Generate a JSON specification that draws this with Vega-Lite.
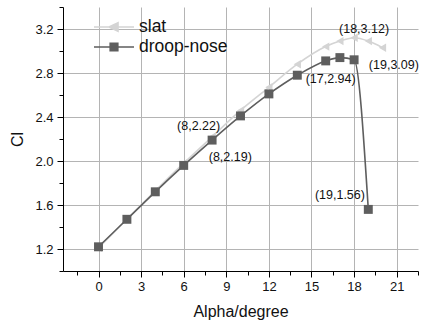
{
  "$schema": "https://vega.github.io/schema/vega-lite/v6.json",
  "width": 355,
  "height": 264,
  "autosize": {"type": "none"},
  "padding": {"left": 63, "top": 7, "right": 3, "bottom": 54},
  "background": "white",
  "config": {
    "view": {"stroke": null},
    "font": "Liberation Sans",
    "axis": {"domainColor": "#000", "tickColor": "#000", "labelColor": "#111", "titleColor": "#111", "gridColor": "#b4b4b4", "gridWidth": 1, "labelFontSize": 13, "titleFontSize": 16, "titleFontWeight": "normal", "labelOverlap": false, "labelFlush": false}
  },
  "resolve": {"axis": {"x": "independent", "y": "independent"}},
  "datasets": {
    "curves": [
      {"series": "slat", "alpha": 0, "cl": 1.21},
      {"series": "slat", "alpha": 2, "cl": 1.47},
      {"series": "slat", "alpha": 4, "cl": 1.73},
      {"series": "slat", "alpha": 6, "cl": 1.98},
      {"series": "slat", "alpha": 8, "cl": 2.22},
      {"series": "slat", "alpha": 10, "cl": 2.46},
      {"series": "slat", "alpha": 12, "cl": 2.67},
      {"series": "slat", "alpha": 14, "cl": 2.88},
      {"series": "slat", "alpha": 16, "cl": 3.04},
      {"series": "slat", "alpha": 17, "cl": 3.09},
      {"series": "slat", "alpha": 18, "cl": 3.12},
      {"series": "slat", "alpha": 19, "cl": 3.09},
      {"series": "slat", "alpha": 20, "cl": 3.03},
      {"series": "droop-nose", "alpha": 0, "cl": 1.22},
      {"series": "droop-nose", "alpha": 2, "cl": 1.47},
      {"series": "droop-nose", "alpha": 4, "cl": 1.72},
      {"series": "droop-nose", "alpha": 6, "cl": 1.96},
      {"series": "droop-nose", "alpha": 8, "cl": 2.19},
      {"series": "droop-nose", "alpha": 10, "cl": 2.41},
      {"series": "droop-nose", "alpha": 12, "cl": 2.61},
      {"series": "droop-nose", "alpha": 14, "cl": 2.78},
      {"series": "droop-nose", "alpha": 16, "cl": 2.91},
      {"series": "droop-nose", "alpha": 17, "cl": 2.94},
      {"series": "droop-nose", "alpha": 18, "cl": 2.92},
      {"series": "droop-nose", "alpha": 19, "cl": 1.56}
    ],
    "notes": [
      {"label": "(18,3.12)", "alpha": 18.7, "cl": 3.2},
      {"label": "(19,3.09)", "alpha": 20.8, "cl": 2.875},
      {"label": "(17,2.94)", "alpha": 16.35, "cl": 2.745},
      {"label": "(8,2.22)", "alpha": 7.05, "cl": 2.315},
      {"label": "(8,2.19)", "alpha": 9.28, "cl": 2.04},
      {"label": "(19,1.56)", "alpha": 17.0, "cl": 1.69}
    ]
  },
  "layer": [
    {
      "data": {"name": "curves"},
      "mark": {"type": "line", "interpolate": "monotone", "strokeWidth": 1.6},
      "encoding": {
        "x": {"field": "alpha", "type": "quantitative", "scale": {"domain": [-2.5, 22.5], "nice": false},
          "axis": {"title": "Alpha/degree", "titlePadding": 10, "orient": "bottom",
            "values": [0, 3, 6, 9, 12, 15, 18, 21],
            "format": "d", "tickSize": 6, "labelPadding": 3}},
        "y": {"field": "cl", "type": "quantitative", "scale": {"domain": [1.0, 3.4], "nice": false, "zero": false},
          "axis": {"title": "Cl", "titlePadding": 9, "orient": "left",
            "values": [1.2, 1.6, 2.0, 2.4, 2.8, 3.2],
            "format": ".1f", "tickSize": 6, "labelPadding": 4}},
        "color": {"field": "series", "type": "nominal", "sort": ["slat", "droop-nose"],
          "scale": {"domain": ["slat", "droop-nose"], "range": ["#d4d4d4", "#5e5e5e"]},
          "legend": {"title": null, "orient": "none", "legendX": 40, "legendY": 9, "labelFontSize": 17.5, "labelColor": "#111", "symbolSize": 400, "symbolStrokeWidth": 1.6, "rowPadding": -1, "labelOffset": 14,
            "symbolType": "M-2,0H2M-0.38,-0.38H0.38V0.38H-0.38Z",
            "encode": {"symbols": {"update": {
              "shape": {"signal": "datum.value === 'slat' ? 'M-2,0H2M-0.5,0L0.4,-0.42L0.4,0.42Z' : 'M-2,0H2M-0.38,-0.38H0.38V0.38H-0.38Z'"},
              "fill": {"signal": "datum.value === 'slat' ? '#d4d4d4' : '#5e5e5e'"},
              "fillOpacity": {"value": 1},
              "stroke": {"signal": "datum.value === 'slat' ? '#d4d4d4' : '#5e5e5e'"}
            }}}}},
        "strokeWidth": {"condition": {"test": "datum.series === 'slat'", "value": 2.6}, "value": 1.6}
      }
    },
    {
      "data": {"name": "curves"},
      "transform": [{"filter": "datum.series === 'slat'"}],
      "mark": {"type": "point", "filled": true, "opacity": 1, "size": 70, "shape": "triangle-left"},
      "encoding": {
        "x": {"field": "alpha", "type": "quantitative", "axis": null},
        "y": {"field": "cl", "type": "quantitative", "axis": null},
        "color": {"field": "series", "type": "nominal"}
      }
    },
    {
      "data": {"name": "curves"},
      "transform": [{"filter": "datum.series === 'droop-nose'"}],
      "mark": {"type": "point", "filled": true, "opacity": 1, "size": 80, "shape": "square"},
      "encoding": {
        "x": {"field": "alpha", "type": "quantitative", "axis": null},
        "y": {"field": "cl", "type": "quantitative", "axis": null},
        "color": {"field": "series", "type": "nominal"}
      }
    },
    {
      "data": {"name": "notes"},
      "mark": {"type": "text", "fontSize": 12.5, "color": "#111", "font": "Liberation Sans"},
      "encoding": {
        "x": {"field": "alpha", "type": "quantitative",
          "axis": {"orient": "bottom", "title": null, "labels": false, "grid": false, "domain": false, "tickSize": 4,
            "values": [-1.5, 1.5, 4.5, 7.5, 10.5, 13.5, 16.5, 19.5, 22.5]}},
        "y": {"field": "cl", "type": "quantitative",
          "axis": {"orient": "left", "title": null, "labels": false, "grid": false, "domain": false, "tickSize": 4,
            "values": [1.0, 1.4, 1.8, 2.2, 2.6, 3.0, 3.4]}},
        "text": {"field": "label"}
      }
    }
  ]
}
